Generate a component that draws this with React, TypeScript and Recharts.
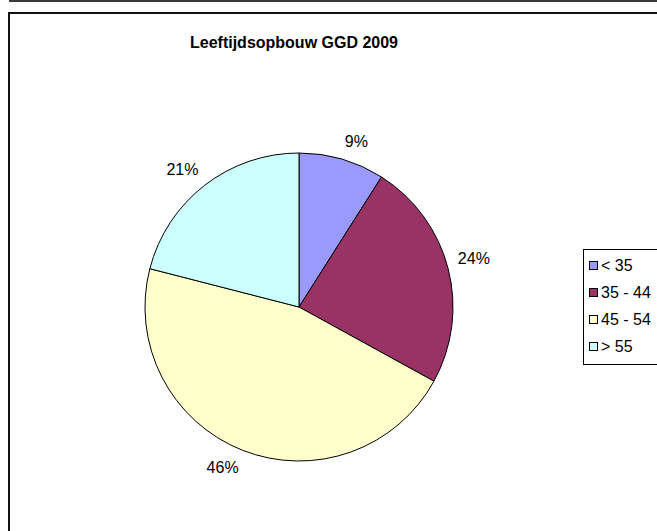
import { PieChart, Pie, Cell, Legend } from "recharts";

const categories = ["< 35", "35 - 44", "45 - 54", "> 55"];
const shares = [9, 24, 46, 21];
const colors = ["#9999FF", "#993366", "#FFFFCC", "#CCFFFF"];

const data = categories.map((name, i) => ({ name, value: shares[i] }));

const FONT = "'Liberation Sans', Arial, sans-serif";
const RADIAN = Math.PI / 180;
const LABEL_SIZE = 16;

// Excel-style "outside end": the label box corner sits just outside the rim
// eslint-disable-next-line @typescript-eslint/no-explicit-any
function PercentLabel(props: any) {
  const { cx, cy, midAngle, outerRadius, value } = props;
  const text = `${value}%`;
  const w = ((text.length - 1) * 0.556 + 0.889) * LABEL_SIZE;
  const h = LABEL_SIZE;
  const cos = Math.cos(-midAngle * RADIAN);
  const sin = Math.sin(-midAngle * RADIAN);
  const r = outerRadius + 10;
  const x = cx + r * cos + Math.sign(cos) * (w / 2);
  const y = cy + r * sin + Math.sign(sin) * (h / 2);
  return (
    <text
      x={x}
      y={y}
      textAnchor="middle"
      dominantBaseline="central"
      fontSize={LABEL_SIZE}
      fontFamily={FONT}
      fill="#000"
    >
      {text}
    </text>
  );
}

function LegendBox() {
  return (
    <div
      style={{
        border: "1px solid #000",
        background: "#fff",
        width: 90,
        padding: "2px 0 4px 5px",
        fontFamily: FONT,
        fontSize: 16,
        color: "#000",
      }}
    >
      {data.map((d, i) => (
        <div
          key={d.name}
          style={{ display: "flex", alignItems: "center", height: 27 }}
        >
          <span
            style={{
              display: "inline-block",
              width: 7,
              height: 7,
              border: "1px solid #000",
              background: colors[i],
              marginRight: 3,
            }}
          />
          <span>{d.name}</span>
        </div>
      ))}
    </div>
  );
}

export default function App() {
  return (
    <div
      style={{
        position: "absolute",
        left: 0,
        top: 0,
        width: 657,
        height: 531,
        overflow: "hidden",
        background: "#fff",
      }}
    >
      <div
        style={{
          position: "absolute",
          left: 9,
          top: 0,
          width: 700,
          height: 2,
          background: "#3a3a3a",
        }}
      />
      <div
        style={{
          position: "absolute",
          left: 8,
          top: 12,
          width: 700,
          height: 600,
          borderLeft: "2px solid #111",
          borderTop: "2px solid #111",
        }}
      />
      <div
        style={{
          position: "absolute",
          left: 0,
          top: 34,
          width: 588,
          textAlign: "center",
          fontFamily: FONT,
          fontWeight: "bold",
          fontSize: 16,
          color: "#000",
        }}
      >
        Leeftijdsopbouw GGD 2009
      </div>
      <div style={{ position: "absolute", left: 0, top: 0 }}>
        <PieChart width={657} height={531}>
          <Pie
            data={data}
            dataKey="value"
            nameKey="name"
            cx={294}
            cy={302}
            outerRadius={154}
            startAngle={90}
            endAngle={-270}
            stroke="#000"
            strokeWidth={1}
            label={PercentLabel}
            labelLine={false}
            isAnimationActive={false}
          >
            {data.map((d, i) => (
              <Cell key={d.name} fill={colors[i]} />
            ))}
          </Pie>
          <Legend
            content={() => <LegendBox />}
            wrapperStyle={{ left: 583, top: 249, width: 100 }}
          />
        </PieChart>
      </div>
    </div>
  );
}
